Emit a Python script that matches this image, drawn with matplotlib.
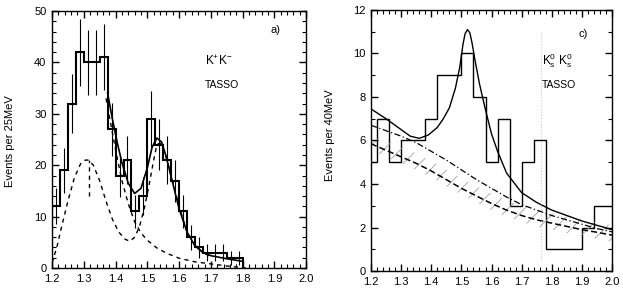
import matplotlib
matplotlib.use("Agg")
import matplotlib.pyplot as plt
from matplotlib.ticker import MultipleLocator, FormatStrFormatter

plt.rcParams['font.family'] = ['Liberation Sans', 'DejaVu Sans']
plt.rcParams['mathtext.default'] = 'regular'
plt.rcParams['hatch.linewidth'] = 0.6

# ---------------- panel a) K+K- , 25 MeV bins ----------------
kk_edges = [1.200, 1.225, 1.250, 1.275, 1.300, 1.325, 1.350, 1.375, 1.400, 1.425,
            1.450, 1.475, 1.500, 1.525, 1.550, 1.575, 1.600, 1.625, 1.650, 1.675,
            1.700, 1.725, 1.750, 1.775, 1.800]
kk_counts = [12, 19, 32, 42, 40, 40, 41, 27, 18, 21,
             11, 14, 29, 24, 21, 17, 11, 6, 4, 3,
             3, 3, 2, 2]
kk_errors = [3.5, 4.4, 5.7, 6.5, 6.3, 6.3, 6.4, 5.2, 4.2, 4.6,
             3.3, 3.7, 5.4, 4.9, 4.6, 4.1, 3.3, 2.4, 2.0, 1.7,
             1.7, 1.7, 1.4, 1.4]

# total fit (solid)
kk_fit_m = [1.375, 1.390, 1.405, 1.420, 1.440, 1.460, 1.480, 1.500, 1.515, 1.530,
            1.545, 1.560, 1.580, 1.600, 1.625, 1.650, 1.675, 1.700, 1.750, 1.800]
kk_fit_v = [34, 29, 24.5, 20.5, 16.5, 14.5, 15.5, 19.5, 23.5, 25.3,
            24.5, 21.5, 16.5, 11.5, 7.0, 4.3, 3.0, 2.4, 1.8, 1.3]

# resonance components (dashed)
kk_res_m = [1.200, 1.215, 1.230, 1.250, 1.270, 1.290, 1.305, 1.315, 1.330, 1.350,
            1.370, 1.390, 1.410, 1.430, 1.445, 1.460, 1.475, 1.490, 1.505, 1.520,
            1.530, 1.540, 1.555, 1.575, 1.600, 1.625, 1.650, 1.675, 1.700]
kk_res_v = [1.0, 4.0, 8.0, 13.0, 17.5, 20.3, 21.0, 21.0, 20.0, 17.0,
            13.0, 9.5, 7.0, 5.6, 5.2, 6.0, 8.0, 11.5, 16.0, 21.0,
            24.0, 24.3, 22.5, 18.0, 12.0, 7.0, 4.5, 3.0, 2.2]

kk_tail_m = [1.370, 1.385, 1.400, 1.420, 1.440, 1.460, 1.480, 1.500, 1.530, 1.560,
             1.600, 1.650, 1.700, 1.750, 1.810]
kk_tail_v = [33, 28, 23, 17, 12.5, 9.0, 6.8, 5.4, 3.9, 2.9,
             1.9, 1.2, 0.8, 0.4, 0.0]

# ---------------- panel c) Ks Ks , 40 MeV bins ----------------
ks_edges = [1.18, 1.22, 1.26, 1.30, 1.34, 1.38, 1.42, 1.46, 1.50, 1.54, 1.58,
            1.62, 1.66, 1.70, 1.74, 1.78, 1.82, 1.86, 1.90, 1.94, 1.98, 2.02]
ks_counts = [5, 7, 5, 6, 6, 7, 9, 9, 10, 8, 5,
             7, 3, 5, 6, 1, 1, 1, 2, 3, 3]

ks_fit_m = [1.20, 1.25, 1.30, 1.33, 1.36, 1.39, 1.42, 1.44, 1.46, 1.48,
            1.495, 1.505, 1.512, 1.520, 1.528, 1.535, 1.545, 1.56, 1.58, 1.60,
            1.62, 1.65, 1.70, 1.75, 1.80, 1.85, 1.90, 1.95, 2.00]
ks_fit_v = [7.45, 7.0, 6.5, 6.2, 6.1, 6.25, 6.6, 7.0, 7.5, 8.4,
            9.4, 10.4, 10.9, 11.1, 10.95, 10.5, 9.7, 8.6, 7.4, 6.3,
            5.5, 4.5, 3.6, 3.15, 2.8, 2.55, 2.3, 2.1, 1.9]

ks_bg_m = [1.20, 1.25, 1.30, 1.35, 1.40, 1.45, 1.50, 1.55, 1.60,
           1.65, 1.70, 1.75, 1.80, 1.85, 1.90, 1.95, 2.00]
ks_bg_upper = [6.7, 6.45, 6.2, 5.9, 5.5, 5.1, 4.65, 4.2, 3.8,
               3.4, 3.05, 2.8, 2.55, 2.35, 2.15, 1.95, 1.8]
ks_bg_lower = [5.85, 5.55, 5.25, 4.95, 4.6, 4.2, 3.8, 3.45, 3.1,
               2.8, 2.55, 2.35, 2.2, 2.05, 1.9, 1.78, 1.65]


def style_axes(ax, ymax, ymajor, yminor):
    ax.set_xlim(1.2, 2.0)
    ax.set_ylim(0, ymax)
    ax.xaxis.set_major_locator(MultipleLocator(0.1))
    ax.xaxis.set_minor_locator(MultipleLocator(0.02))
    ax.xaxis.set_major_formatter(FormatStrFormatter('%.1f'))
    ax.yaxis.set_major_locator(MultipleLocator(ymajor))
    ax.yaxis.set_minor_locator(MultipleLocator(yminor))
    ax.tick_params(which='both', direction='in', top=True, right=True,
                   labelsize=8, pad=4)
    ax.tick_params(which='major', length=5, width=1.0)
    ax.tick_params(which='minor', length=3, width=0.8)
    for s in ax.spines.values():
        s.set_linewidth(1.0)


fig = plt.figure(figsize=(6.23, 2.93), dpi=100)

# ---- left ----
ax1 = fig.add_axes([0.0835, 0.0853, 0.408, 0.877])
ax1.stairs(kk_counts, kk_edges, color='black', linewidth=1.5)
centers = [(a + b) / 2 for a, b in zip(kk_edges[:-1], kk_edges[1:])]
ax1.errorbar(centers, kk_counts, yerr=kk_errors, fmt='none',
             ecolor='black', elinewidth=0.8, capsize=0)
ax1.plot(kk_fit_m, kk_fit_v, color='black', linewidth=1.2)
ax1.plot(kk_res_m, kk_res_v, color='black', linewidth=1.0, linestyle=(0, (3, 3)))
ax1.plot(kk_tail_m, kk_tail_v, color='black', linewidth=1.0, linestyle=(0, (3, 3)))
ax1.plot([1.315, 1.315], [14, 21], color='black', linewidth=1.0, linestyle=(0, (3, 3)))
style_axes(ax1, 50, 10, 2)
ax1.text(0.86, 0.915, 'a)', transform=ax1.transAxes, fontsize=8)
ax1.text(0.60, 0.79, 'K$^{+}$K$^{-}$', transform=ax1.transAxes, fontsize=8.5)
ax1.text(0.60, 0.70, 'TASSO', transform=ax1.transAxes, fontsize=7.5)
fig.text(0.016, 0.52, 'Events per 25MeV', rotation=90, ha='center', va='center',
         fontsize=8)

# ---- right ----
ax2 = fig.add_axes([0.5955, 0.075, 0.387, 0.891])
ax2.stairs(ks_counts, ks_edges, color='black', linewidth=1.0)
ax2.plot(ks_fit_m, ks_fit_v, color='black', linewidth=1.0)
ax2.plot(ks_bg_m, ks_bg_upper, color='black', linewidth=0.9, linestyle=(0, (5, 2, 1, 2)))
ax2.plot(ks_bg_m, ks_bg_lower, color='black', linewidth=1.1, linestyle=(0, (4, 2)))
band_lo = [v - 0.3 for v in ks_bg_lower]
band_hi = [v + 0.45 for v in ks_bg_lower]
ax2.fill_between(ks_bg_m, band_lo, band_hi, facecolor='none', edgecolor='#a0a0a0',
                 hatch='//', linewidth=0)
ax2.plot([1.765, 1.765], [0.5, 11], color='#c8c8c8', linewidth=0.8, linestyle=':')
style_axes(ax2, 12, 2, 1)
ax2.text(0.86, 0.895, 'c)', transform=ax2.transAxes, fontsize=8)
ax2.text(0.71, 0.79, 'K$^{0}_{s}$ K$^{0}_{s}$', transform=ax2.transAxes, fontsize=8.5)
ax2.text(0.71, 0.70, 'TASSO', transform=ax2.transAxes, fontsize=7.5)
fig.text(0.530, 0.54, 'Events per 40MeV', rotation=90, ha='center', va='center',
         fontsize=8)

fig.savefig('out.png', dpi=100)
